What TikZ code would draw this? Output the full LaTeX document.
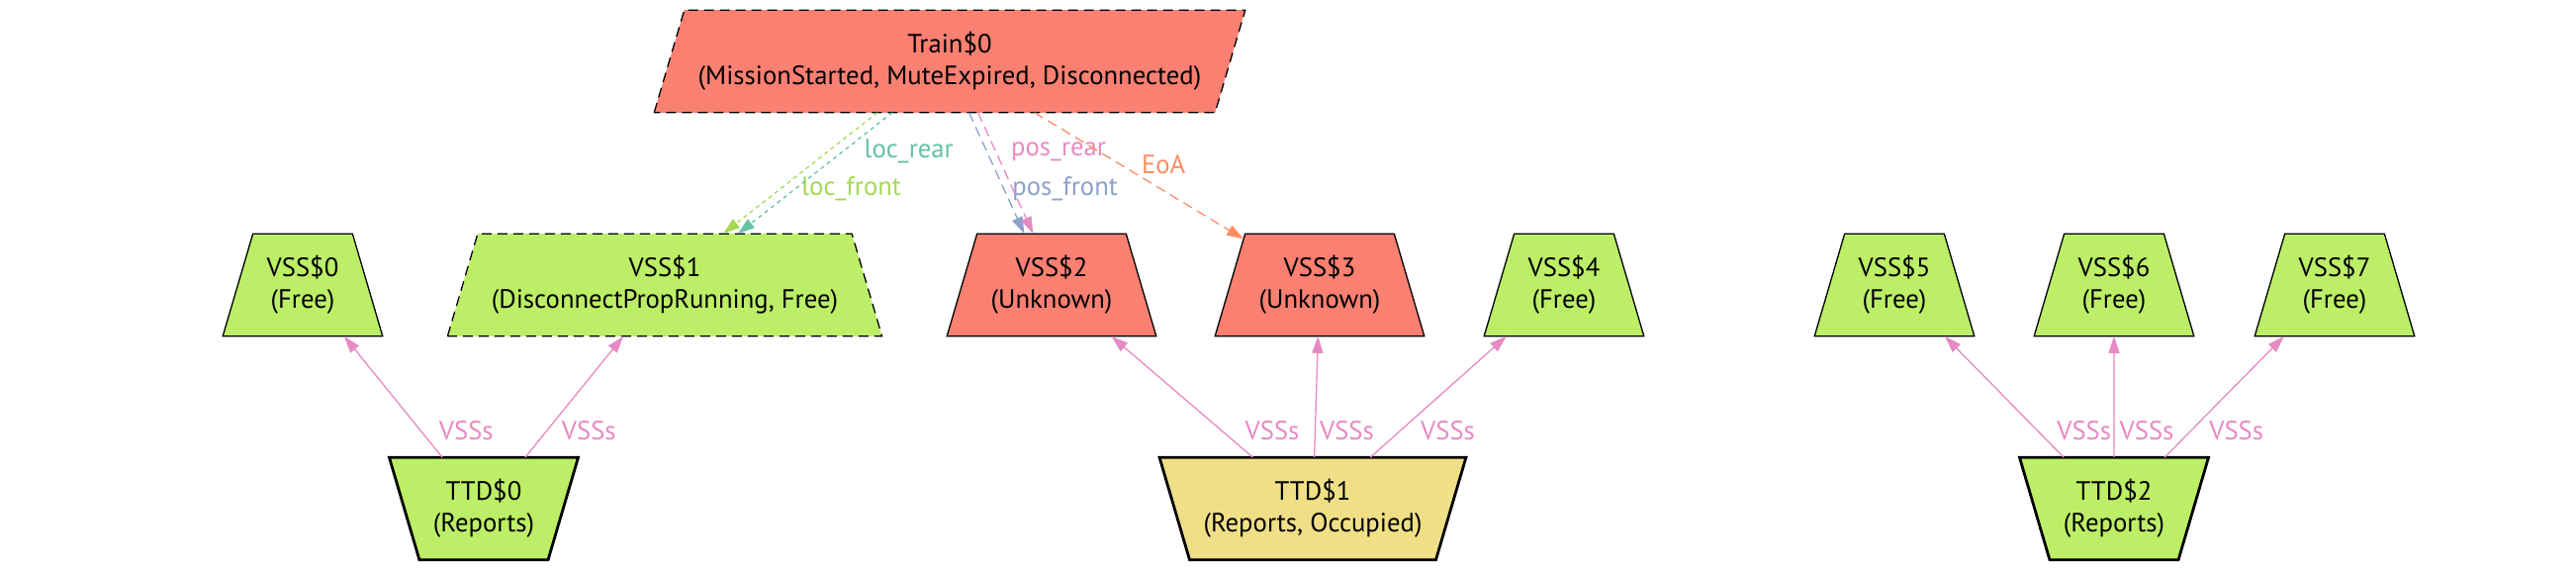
\documentclass[tikz,border=0pt]{standalone}
\usepackage{fontspec}
\setmainfont{PT Sans}
\usepackage{xcolor}
\usepackage{tikz}
\usetikzlibrary{shapes.geometric, arrows.meta}

\definecolor{unknownfill}{HTML}{FA8072}
\definecolor{freefill}{HTML}{BCEE68}
\definecolor{occupiedfill}{HTML}{F0DF87}
\definecolor{locfront}{HTML}{A6D854}
\definecolor{locrear}{HTML}{66C2A5}
\definecolor{posfront}{HTML}{8DA0CB}
\definecolor{posrear}{HTML}{E78AC3}
\definecolor{eoa}{HTML}{FC8D62}
\definecolor{vsslink}{HTML}{E78AC3}

\tikzset{
    vssbox/.style={trapezium, trapezium left angle=73.6, trapezium right angle=73.6,
        draw, line width=0.13mm, align=center, inner xsep=1.4mm, inner ysep=2.2mm,
        outer sep=0pt, fill=freefill},
    ttdbox/.style={vssbox, trapezium left angle=106.4, trapezium right angle=106.4,
        line width=0.28mm},
    trainbox/.style={vssbox, trapezium right angle=106.4},
    dashedborder/.style={dash pattern=on 1mm off 0.6mm},
    link/.style={line width=0.13mm},
    dotlink/.style={link, dash pattern=on 0.4mm off 0.4mm},
    dashlink/.style={link, dash pattern=on 1mm off 0.6mm},
    lbl/.style={inner sep=0pt, anchor=west},
}

\begin{document}
\begin{tikzpicture}[x=0.1mm, y=-0.1mm, >={Triangle[length=1.7mm, width=1.1mm]},
    font=\fontsize{7.6}{9.2}\selectfont]
    \useasboundingbox (0,0) rectangle (2604,575);

    % Tàu
    \node[trainbox, dashedborder, fill=unknownfill] (train) at (960,62)
        {Train\$0\\(MissionStarted, MuteExpired, Disconnected)};

    % Các đoạn VSS
    \node[vssbox] (vss0) at (306,288) {VSS\$0\\(Free)};
    \node[vssbox, dashedborder] (vss1) at (672,288) {VSS\$1\\(DisconnectPropRunning, Free)};
    \node[vssbox, fill=unknownfill] (vss2) at (1063,288) {VSS\$2\\(Unknown)};
    \node[vssbox, fill=unknownfill] (vss3) at (1334,288) {VSS\$3\\(Unknown)};
    \node[vssbox] (vss4) at (1581,288) {VSS\$4\\(Free)};
    \node[vssbox] (vss5) at (1915,288) {VSS\$5\\(Free)};
    \node[vssbox] (vss6) at (2137,288) {VSS\$6\\(Free)};
    \node[vssbox] (vss7) at (2360,288) {VSS\$7\\(Free)};

    % Các đoạn TTD
    \node[ttdbox] (ttd0) at (489,514) {TTD\$0\\(Reports)};
    \node[ttdbox, fill=occupiedfill] (ttd1) at (1327,514) {TTD\$1\\(Reports, Occupied)};
    \node[ttdbox] (ttd2) at (2137,514) {TTD\$2\\(Reports)};

    % Vị trí của tàu
    \draw[->, dotlink, locfront, transform canvas={xshift=-0.7mm}] (train) --
        node[lbl, pos=.63, xshift=2.1mm] {loc\_front} (vss1);
    \draw[->, dotlink, locrear, transform canvas={xshift=0.8mm}] (train) --
        node[lbl, pos=.32, xshift=2.1mm] {loc\_rear} (vss1);
    \draw[->, dashlink, posfront, transform canvas={xshift=-0.4mm}] (train) --
        node[lbl, pos=.63, xshift=0.8mm] {pos\_front} (vss2);
    \draw[->, dashlink, posrear, transform canvas={xshift=0.5mm}] (train) --
        node[lbl, pos=.32, xshift=1.5mm] {pos\_rear} (vss2);
    \draw[->, dashlink, eoa] (train) -- node[lbl, pos=.41, xshift=2.1mm] {EoA} (vss3);

    % TTD -> VSS
    \draw[->, link, vsslink] (ttd0) -- node[lbl, pos=.22, xshift=1.8mm] {VSSs} (vss0);
    \draw[->, link, vsslink] (ttd0) -- node[lbl, pos=.22, xshift=1.45mm] {VSSs} (vss1);
    \draw[->, link, vsslink] (ttd1) -- node[lbl, pos=.22, xshift=2.3mm] {VSSs} (vss2);
    \draw[->, link, vsslink] (ttd1) -- node[lbl, pos=.22, xshift=0.4mm] {VSSs} (vss3);
    \draw[->, link, vsslink] (ttd1) -- node[lbl, pos=.22, xshift=2mm] {VSSs} (vss4);
    \draw[->, link, vsslink] (ttd2) -- node[lbl, pos=.22, xshift=1.9mm] {VSSs} (vss5);
    \draw[->, link, vsslink] (ttd2) -- node[lbl, pos=.22, xshift=0.5mm] {VSSs} (vss6);
    \draw[->, link, vsslink] (ttd2) -- node[lbl, pos=.22, xshift=1.8mm] {VSSs} (vss7);
\end{tikzpicture}
\end{document}
